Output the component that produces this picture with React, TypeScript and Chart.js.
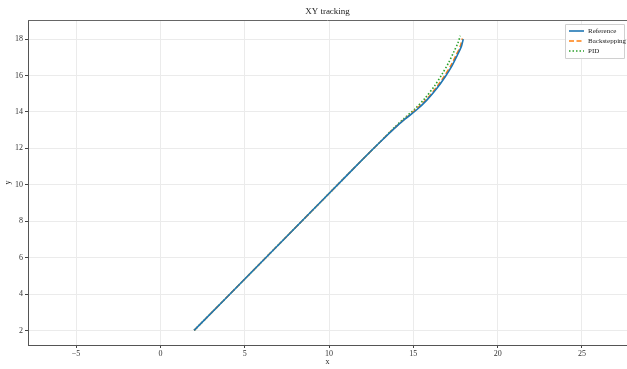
import React, { useEffect, useRef } from "react";
import { Chart, registerables } from "chart.js";

Chart.register(...registerables);

const chartTitle = "XY tracking";
const seriesLabels = ["Reference", "Backstepping", "PID"];
const xTicks = [-5, 0, 5, 10, 15, 20, 25];
const yTicks = [2, 4, 6, 8, 10, 12, 14, 16, 18];

const refX = [2, 6, 10, 12, 13, 13.8, 14.5, 15.2, 15.8, 16.4, 16.9, 17.3, 17.6, 17.85, 17.96];
const refY = [2, 5.76, 9.52, 11.4, 12.32, 13.03, 13.6, 14.12, 14.65, 15.3, 15.95, 16.55, 17.1, 17.6, 18.0];
const bsX = [2, 6, 10, 12, 13, 13.79, 14.48, 15.17, 15.76, 16.35, 16.84, 17.24, 17.54, 17.79, 17.91];
const bsY = [2, 5.76, 9.52, 11.4, 12.32, 13.04, 13.61, 14.14, 14.67, 15.32, 15.97, 16.57, 17.12, 17.62, 18.03];
const pidX = [2, 6, 10, 12, 13, 13.77, 14.44, 15.11, 15.68, 16.25, 16.72, 17.1, 17.39, 17.65, 17.78];
const pidY = [2, 5.76, 9.52, 11.4, 12.32, 13.05, 13.64, 14.18, 14.74, 15.42, 16.1, 16.72, 17.28, 17.8, 18.18];

const colors = ["#1f77b4", "#ff7f0e", "#2ca02c"];
const dashes: number[][] = [[], [5, 2.5], [1.5, 2]];
const FONT = "'Liberation Serif', 'DejaVu Serif', serif";

const pts = (xs: number[], ys: number[]) => xs.map((x, i) => ({ x, y: ys[i] }));

const decorPlugin = {
  id: "decor",
  afterDraw(chart: any) {
    const { ctx, chartArea } = chart;
    ctx.save();
    ctx.strokeStyle = "#666";
    ctx.lineWidth = 1;
    ctx.beginPath();
    ctx.moveTo(chartArea.left, chartArea.top + 0.5);
    ctx.lineTo(chartArea.right, chartArea.top + 0.5);
    ctx.stroke();
    ctx.fillStyle = "#222";
    ctx.font = `9px ${FONT}`;
    ctx.textAlign = "center";
    ctx.textBaseline = "middle";
    ctx.fillText(chartTitle, (chartArea.left + chartArea.right) / 2, 12);
    const bx = 565, by = 24, bw = 59, bh = 34;
    ctx.fillStyle = "rgba(255,255,255,0.9)";
    ctx.strokeStyle = "#d0d0d0";
    ctx.lineWidth = 1;
    ctx.beginPath();
    ctx.rect(bx + 0.5, by + 0.5, bw, bh);
    ctx.fill();
    ctx.stroke();
    const rows = [31, 41, 51];
    chart.data.datasets.forEach((ds: any, i: number) => {
      ctx.strokeStyle = ds.borderColor;
      ctx.lineWidth = 1.6;
      ctx.setLineDash(ds.borderDash || []);
      ctx.beginPath();
      ctx.moveTo(569, rows[i]);
      ctx.lineTo(584, rows[i]);
      ctx.stroke();
      ctx.setLineDash([]);
      ctx.fillStyle = "#222";
      ctx.font = `7px ${FONT}`;
      ctx.textAlign = "left";
      ctx.textBaseline = "middle";
      ctx.fillText(ds.label, 588, rows[i]);
    });
    ctx.restore();
  },
};

export default function App() {
  const ref = useRef<HTMLCanvasElement | null>(null);
  useEffect(() => {
    document.body.style.margin = "0";
    const canvas = ref.current!;
    const series = [pts(refX, refY), pts(bsX, bsY), pts(pidX, pidY)];
    const chart = new Chart(canvas, {
      type: "scatter",
      data: {
        datasets: series.map((d, i) => ({
          label: seriesLabels[i],
          data: d,
          showLine: true,
          borderColor: colors[i],
          backgroundColor: colors[i],
          borderWidth: 1.6,
          borderDash: dashes[i],
          pointRadius: 0,
          tension: 0.3,
          fill: false,
        })),
      },
      options: {
        responsive: false,
        animation: false,
        layout: { padding: { top: 20, left: 0, right: 0, bottom: 0 } },
        plugins: { legend: { display: false }, title: { display: false }, tooltip: { enabled: false } },
        scales: {
          x: {
            type: "linear",
            min: -7.85,
            max: 27.67,
            afterBuildTicks: (s: any) => { s.ticks = xTicks.map((v) => ({ value: v })); },
            afterFit: (s: any) => { s.height = 24; },
            ticks: {
              color: "#333",
              font: { family: FONT, size: 8 },
              padding: 1,
              maxRotation: 0,
              callback: (v: any) => String(v).replace("-", "\u2212"),
            },
            grid: { color: "#ebebeb", lineWidth: 1, tickColor: "#444", tickLength: 3 },
            border: { color: "#555", width: 1 },
            title: { display: true, text: "x", color: "#222", font: { family: FONT, size: 8 }, padding: { top: 0, bottom: 2 } },
          },
          y: {
            type: "linear",
            min: 1.2,
            max: 19.05,
            afterBuildTicks: (s: any) => { s.ticks = yTicks.map((v) => ({ value: v })); },
            afterFit: (s: any) => { s.width = 28; },
            ticks: {
              color: "#333",
              font: { family: FONT, size: 8 },
              padding: 2,
            },
            grid: { color: "#ebebeb", lineWidth: 1, tickColor: "#444", tickLength: 3 },
            border: { color: "#555", width: 1 },
            title: { display: true, text: "y", color: "#222", font: { family: FONT, size: 8 }, padding: { top: 3, bottom: 0 } },
          },
        },
      },
      plugins: [decorPlugin],
    } as any);
    return () => chart.destroy();
  }, []);
  return (
    <div style={{ position: "absolute", left: 0, top: 0, width: 627, height: 369, background: "#fff" }}>
      <canvas ref={ref} width={627} height={369} style={{ display: "block", width: 627, height: 369 }} />
    </div>
  );
}
